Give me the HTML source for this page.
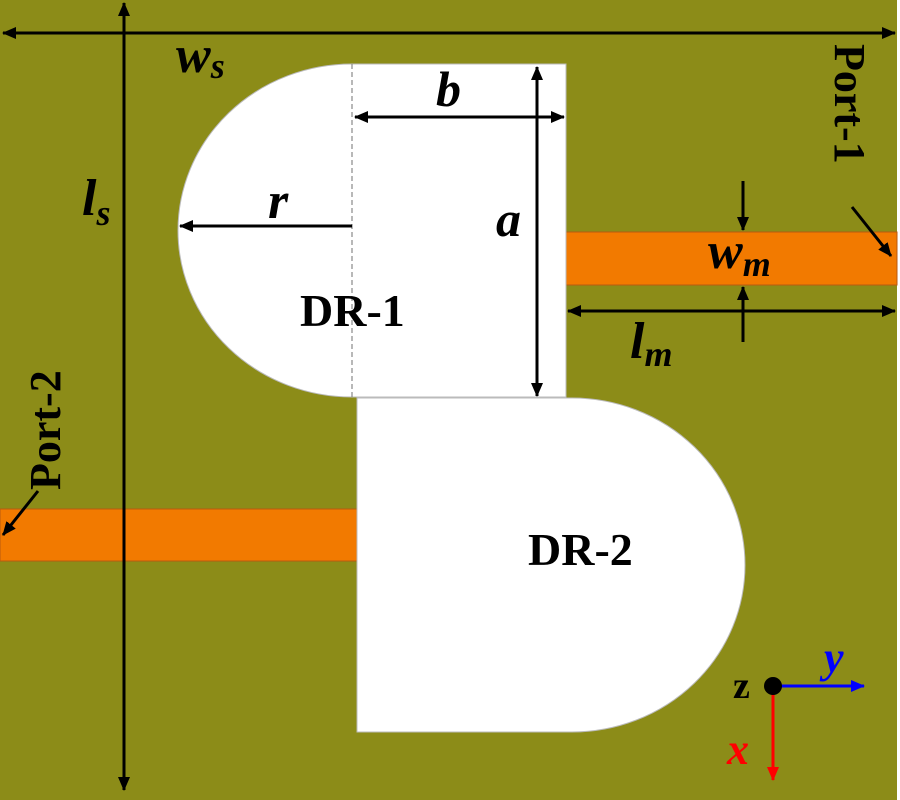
<!DOCTYPE html>
<html><head><meta charset="utf-8"><style>
html,body{margin:0;padding:0;background:#fff}
svg{display:block}
text{font-family:"Liberation Serif",serif;font-weight:bold}
</style></head><body>
<svg width="900" height="800" viewBox="0 0 900 800" xmlns="http://www.w3.org/2000/svg">
<defs>
<marker id="ah" markerWidth="14" markerHeight="12" refX="13" refY="6" orient="auto-start-reverse" markerUnits="userSpaceOnUse"><path d="M0,0 L14,6 L0,12 Z" fill="#000"/></marker>
<marker id="ab" markerWidth="14" markerHeight="12" refX="13" refY="6" orient="auto" markerUnits="userSpaceOnUse"><path d="M0,0 L14,6 L0,12 Z" fill="#0000ff"/></marker>
<marker id="ar" markerWidth="14" markerHeight="12" refX="13" refY="6" orient="auto" markerUnits="userSpaceOnUse"><path d="M0,0 L14,6 L0,12 Z" fill="#ff0000"/></marker>
</defs>
<rect x="0" y="0" width="897" height="800" fill="#8c8c18"/>
<rect x="566" y="232" width="331" height="53" fill="#f27a00" stroke="#b85a10" stroke-width="1"/>
<rect x="0" y="509" width="357" height="52" fill="#f27a00" stroke="#b85a10" stroke-width="1"/>
<path d="M352,64 L566,64 L566,397 L352,397 A174,166.5 0 0 1 352,64 Z" fill="#fff" stroke="#bbb" stroke-width="1"/>
<line x1="352" y1="64" x2="352" y2="397" stroke="#888" stroke-width="1.2" stroke-dasharray="5,3"/>
<path d="M357,398 L572,398 A173,167 0 0 1 572,732 L357,732 Z" fill="#fff" stroke="#bbb" stroke-width="1"/>
<line x1="124" y1="790" x2="124" y2="3" stroke="#000" stroke-width="3" marker-end="url(#ah)" marker-start="url(#ah)"/>
<line x1="895" y1="33" x2="3" y2="33" stroke="#000" stroke-width="3" marker-end="url(#ah)" marker-start="url(#ah)"/>
<line x1="352" y1="226" x2="180" y2="226" stroke="#000" stroke-width="3" marker-end="url(#ah)"/>
<line x1="355" y1="117" x2="564" y2="117" stroke="#000" stroke-width="3" marker-end="url(#ah)" marker-start="url(#ah)"/>
<line x1="537" y1="67" x2="537" y2="396" stroke="#000" stroke-width="3" marker-end="url(#ah)" marker-start="url(#ah)"/>
<line x1="568" y1="311" x2="895" y2="311" stroke="#000" stroke-width="3" marker-end="url(#ah)" marker-start="url(#ah)"/>
<line x1="743" y1="181" x2="743" y2="230" stroke="#000" stroke-width="3" marker-end="url(#ah)"/>
<line x1="743" y1="342" x2="743" y2="287" stroke="#000" stroke-width="3" marker-end="url(#ah)"/>
<line x1="852" y1="207" x2="891" y2="256" stroke="#000" stroke-width="3" marker-end="url(#ah)"/>
<line x1="38" y1="491" x2="3" y2="535" stroke="#000" stroke-width="3" marker-end="url(#ah)"/>
<text x="176" y="72" font-size="52" font-style="italic">w<tspan font-size="36" dy="6">s</tspan></text>
<text x="82" y="215" font-size="52" font-style="italic">l<tspan font-size="36" dy="10">s</tspan></text>
<text x="268" y="218" font-size="52" font-style="italic">r</text>
<text x="436" y="106" font-size="50" font-style="italic">b</text>
<text x="496" y="236" font-size="50" font-style="italic">a</text>
<text x="708" y="268" font-size="52" font-style="italic">w<tspan font-size="36" dy="8">m</tspan></text>
<text x="630" y="358" font-size="52" font-style="italic">l<tspan font-size="36" dy="8">m</tspan></text>
<text x="300" y="326" font-size="46">DR-1</text>
<text x="528" y="565" font-size="46">DR-2</text>
<text font-size="44" transform="translate(835,44) rotate(90)">Port-1</text>
<text font-size="44" transform="translate(60,490) rotate(-90)">Port-2</text>
<line x1="773" y1="686" x2="864" y2="686" stroke="#0000ff" stroke-width="3" marker-end="url(#ab)"/>
<line x1="773" y1="686" x2="773" y2="780" stroke="#ff0000" stroke-width="3" marker-end="url(#ar)"/>
<circle cx="773" cy="686" r="9" fill="#000"/>
<text x="733" y="698" font-size="38">z</text>
<text x="824" y="672" font-size="44" font-style="italic" fill="#0000ff">y</text>
<text x="727" y="764" font-size="44" font-style="italic" fill="#ff0000">x</text>
</svg>
</body></html>
